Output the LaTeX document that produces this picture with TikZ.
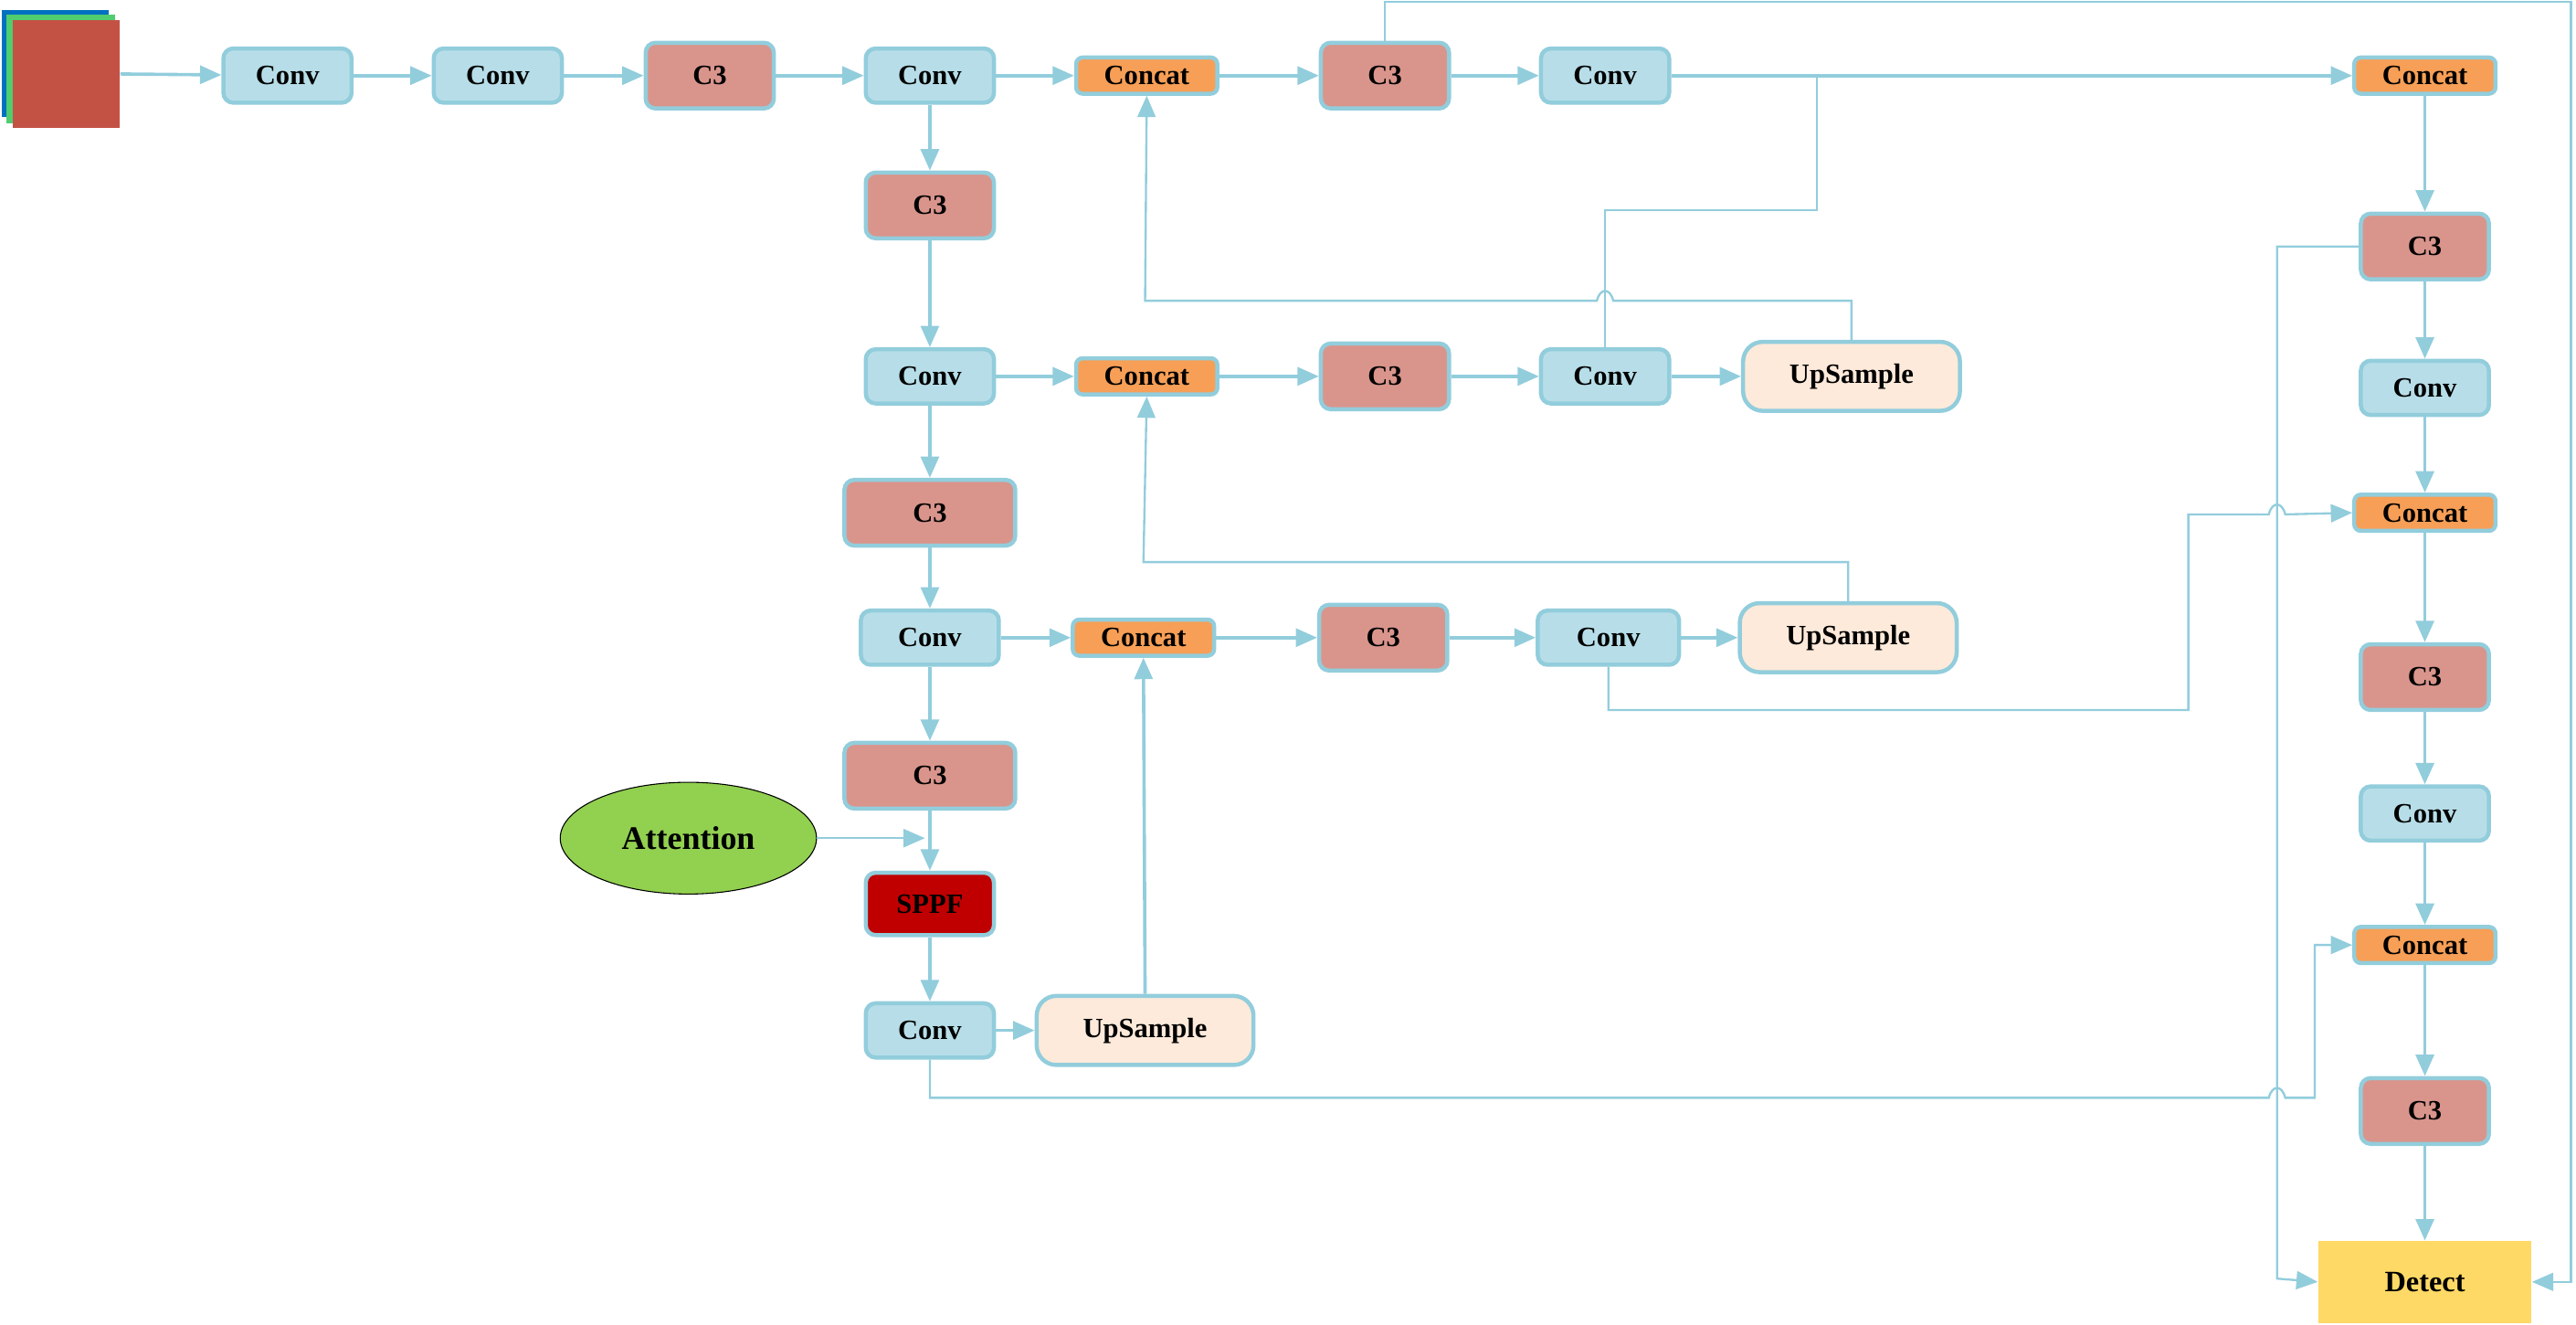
\documentclass[tikz,border=0pt]{standalone}
\usepackage{fontspec}
\setmainfont{Liberation Serif}
\usetikzlibrary{arrows.meta,shapes.geometric}
\definecolor{edge}{HTML}{92CDDC}
\definecolor{convc}{HTML}{B7DEE8}
\definecolor{c3c}{HTML}{D9958C}
\definecolor{catc}{HTML}{F79F56}
\definecolor{upc}{HTML}{FDEADA}
\definecolor{sppfc}{HTML}{C00000}
\definecolor{attc}{HTML}{92D050}
\definecolor{detc}{HTML}{FFD966}
\definecolor{imgb}{HTML}{0070C0}
\definecolor{imgg}{HTML}{50CD6E}
\definecolor{imgr}{HTML}{C35245}
\tikzset{
 blk/.style={draw=edge,line width=2.5pt,rounded corners=6pt,font=\bfseries\fontsize{17}{17}\selectfont,inner sep=0pt,align=center},
 convb/.style={blk,fill=convc,minimum width=78pt,minimum height=33pt},
 c3b/.style={blk,fill=c3c,minimum width=78pt,minimum height=40pt},
 catb/.style={blk,fill=catc,minimum width=86pt,minimum height=22pt,rounded corners=4pt},
 upb/.style={blk,fill=upc,minimum width=132pt,minimum height=42pt,rounded corners=12pt},
 arr/.style={draw=edge,line width=2pt,-{Triangle[length=13pt,width=11pt]}},
 ln/.style={draw=edge,line width=1.3pt},
 tarr/.style={ln,-{Triangle[length=13pt,width=11pt]}},
}
\begin{document}
\begin{tikzpicture}[x=1pt,y=-1pt]
\useasboundingbox (0,0) rectangle (1568,806);
% input image
\fill[imgb] (1,6) rectangle (66,71);
\fill[imgg] (4,9) rectangle (70,75);
\node[fill=imgr,minimum width=65pt,minimum height=66pt,inner sep=0pt] (img) at (40.5,45) {};
% row 1
\node[convb] (cv1) at (175,46) {Conv};
\node[convb] (cv2) at (303,46) {Conv};
\node[c3b] (c31) at (432,46) {C3};
\node[convb] (cv3) at (566,46) {Conv};
\node[catb] (ct1) at (698,46) {Concat};
\node[c3b] (c32) at (843,46) {C3};
\node[convb] (cv4) at (977,46) {Conv};
\node[catb] (ctR1) at (1476,46) {Concat};
% backbone column
\node[c3b] (b1) at (566,125) {C3};
\node[convb] (b2) at (566,229) {Conv};
\node[c3b,minimum width=104pt] (b3) at (566,312) {C3};
\node[convb,minimum width=84pt] (b4) at (566,388) {Conv};
\node[c3b,minimum width=104pt] (b5) at (566,472) {C3};
\node[blk,fill=sppfc,minimum width=78pt,minimum height=38pt] (sppf) at (566,550) {SPPF};
\node[convb] (b6) at (566,627) {Conv};
\node[draw=black,line width=0.6pt,fill=attc,ellipse,minimum width=156pt,minimum height=68pt,inner sep=0pt,font=\bfseries\fontsize{20}{20}\selectfont] (att) at (419,510) {Attention};
% row 229
\node[catb] (ct2) at (698,229) {Concat};
\node[c3b] (c33) at (843,229) {C3};
\node[convb] (cv5) at (977,229) {Conv};
\node[upb] (up1) at (1127,229) {UpSample};
% row 388
\node[catb] (ct3) at (696,388) {Concat};
\node[c3b] (c34) at (842,388) {C3};
\node[convb,minimum width=86pt] (cv6) at (979,388) {Conv};
\node[upb] (up2) at (1125,388) {UpSample};
\node[upb] (up3) at (697,627) {UpSample};
% right column
\node[c3b] (r1) at (1476,150) {C3};
\node[convb] (r2) at (1476,236) {Conv};
\node[catb] (r3) at (1476,312) {Concat};
\node[c3b] (r4) at (1476,412) {C3};
\node[convb] (r5) at (1476,495) {Conv};
\node[catb] (r6) at (1476,575) {Concat};
\node[c3b] (r7) at (1476,676) {C3};
\node[fill=detc,minimum width=130pt,minimum height=50pt,inner sep=0pt,font=\bfseries\fontsize{18}{18}\selectfont] (det) at (1476,780) {Detect};
% row 1 arrows
\draw[arr] (img.east) -- (cv1);
\draw[arr] (cv1) -- (cv2);
\draw[arr] (cv2) -- (c31);
\draw[arr] (c31) -- (cv3);
\draw[arr] (cv3) -- (ct1);
\draw[arr] (ct1) -- (c32);
\draw[arr] (c32) -- (cv4);
\draw[arr] (cv4) -- (ctR1);
% backbone
\draw[arr] (cv3) -- (b1);
\draw[arr] (b1) -- (b2);
\draw[arr] (b2) -- (b3);
\draw[arr] (b3) -- (b4);
\draw[arr] (b4) -- (b5);
\draw[arr] (b5) -- (sppf);
\draw[arr] (sppf) -- (b6);
\coordinate (attend) at (563,510);
\draw[tarr] (att.east) -- (attend);
% rows
\draw[arr] (b2) -- (ct2);
\draw[arr] (ct2) -- (c33);
\draw[arr] (c33) -- (cv5);
\draw[arr] (cv5) -- (up1);
\draw[arr] (b4) -- (ct3);
\draw[arr] (ct3) -- (c34);
\draw[arr] (c34) -- (cv6);
\draw[arr] (cv6) -- (up2);
\draw[arr] (b6) -- (up3);
\draw[arr] (up3.north) -- (ct3.south);
% feedback lines
\draw[tarr] (up2.north) -- (1125,342) -- (696,342) -- (ct2.south);
\draw[tarr] (up1.north) -- (1127,183) -- (982,183) .. controls (980,175) and (974,175) .. (972,183) -- (697,183) -- (ct1.south);
\draw[ln] (cv5.north) -- (977,128) -- (1106,128) -- (1106,46);
\draw[tarr] (c32.north) -- (843,1) -- (1565,1) -- (1565,780) -- (det.east);
\draw[tarr] (r1.west) -- (1386,150) -- (1386,778) -- (det.west);
\draw[tarr] (cv6.south) -- (979,432) -- (1332,432) -- (1332,313) -- (1381,313) .. controls (1383,305) and (1389,305) .. (1391,313) -- (r3.west);
\draw[tarr] (b6.south) -- (566,668) -- (1381,668) .. controls (1383,660) and (1389,660) .. (1391,668) -- (1409,668) -- (1409,575) -- (r6.west);
% right column
\draw[arr] (ctR1) -- (r1);
\draw[arr] (r1) -- (r2);
\draw[arr] (r2) -- (r3);
\draw[arr] (r3) -- (r4);
\draw[arr] (r4) -- (r5);
\draw[arr] (r5) -- (r6);
\draw[arr] (r6) -- (r7);
\draw[arr] (r7) -- (det);
\end{tikzpicture}
\end{document}
